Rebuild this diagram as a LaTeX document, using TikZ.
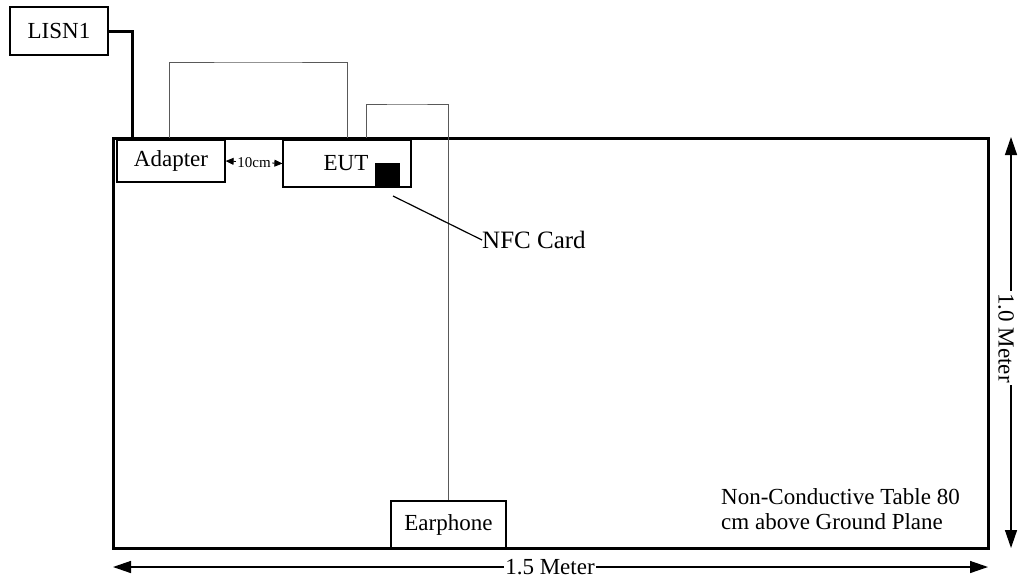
\documentclass[tikz,border=0pt]{standalone}
\usepackage{fontspec}
\setmainfont{Liberation Serif}
\usetikzlibrary{arrows.meta}
\begin{document}
\begin{tikzpicture}[x=1pt,y=-1pt,
  every node/.style={font=\fontsize{23}{25}\selectfont},
  box/.style={draw, line width=1.2pt, inner sep=0pt},
  cable/.style={draw=black!65, line width=1pt},
  thick cable/.style={draw, line width=3pt},
  dim/.style={line width=1.4pt, {Triangle[length=18pt,width=12pt]}-{Triangle[length=18pt,width=12pt]}},
  small dim/.style={line width=0.8pt, {Triangle[length=8pt,width=7pt]}-{Triangle[length=8pt,width=7pt]}}
]
\useasboundingbox (0,0) rectangle (1019,581);
% table
\draw[line width=3pt] (113,138) rectangle (988,548);
% boxes
\node[box, minimum width=98pt, minimum height=48pt] (lisn) at (59,31) {LISN1};
\node[box, minimum width=108pt, minimum height=42pt] (adapter) at (171,161) {Adapter};
\node[box, minimum width=128pt, minimum height=47pt] (eut) at (347,163.5) {\hspace*{-2pt}EUT};
\node[box, minimum width=115pt, minimum height=47pt] (ear) at (448.5,524.5) {Earphone};
\node[fill=black, minimum width=25pt, minimum height=25pt, inner sep=0pt] (nfc) at (387.5,175.5) {};
% cables
\coordinate (c1a) at (169,138);
\coordinate (c1b) at (347,138);
\coordinate (c2a) at (366,138);
\coordinate (lisnin) at (132,138);
\draw[thick cable] (lisn.east) -| (lisnin);
\draw[cable] (c1a) |- (258,62) -| (c1b);
\draw[cable] (c2a) |- (407,104) -| (ear.north -| 448,0);
% NFC label
\node[anchor=west, inner sep=0pt, font=\fontsize{25}{27}\selectfont] (nfclab) at (482,240) {NFC Card};
\coordinate (nfcstart) at (393,196);
\draw[line width=1.2pt] (nfcstart) -- (nfclab.west);
% 10cm
\draw[small dim] (adapter.east) -- node[fill=white, inner sep=1pt, font=\fontsize{15}{16}\selectfont] {10cm} (eut.west);
% dimensions
\coordinate (hl) at (113,567);
\coordinate (hr) at (988,567);
\draw[dim] (hl) -- (hr);
\node[fill=white, inner sep=1pt] (hlab) at (550,567) {1.5 Meter};
\coordinate (vt) at (1011,137);
\coordinate (vb) at (1011,548);
\draw[dim] (vt) -- (vb);
\node[fill=white, inner xsep=2pt, inner ysep=0pt, rotate=-90] (vlab) at (1006,338) {1.0 Meter};
% table label
\node[anchor=west, align=left, inner sep=0pt] (tablelab) at (721,509.5) {Non-Conductive Table 80\\cm above Ground Plane};
\end{tikzpicture}
\end{document}
